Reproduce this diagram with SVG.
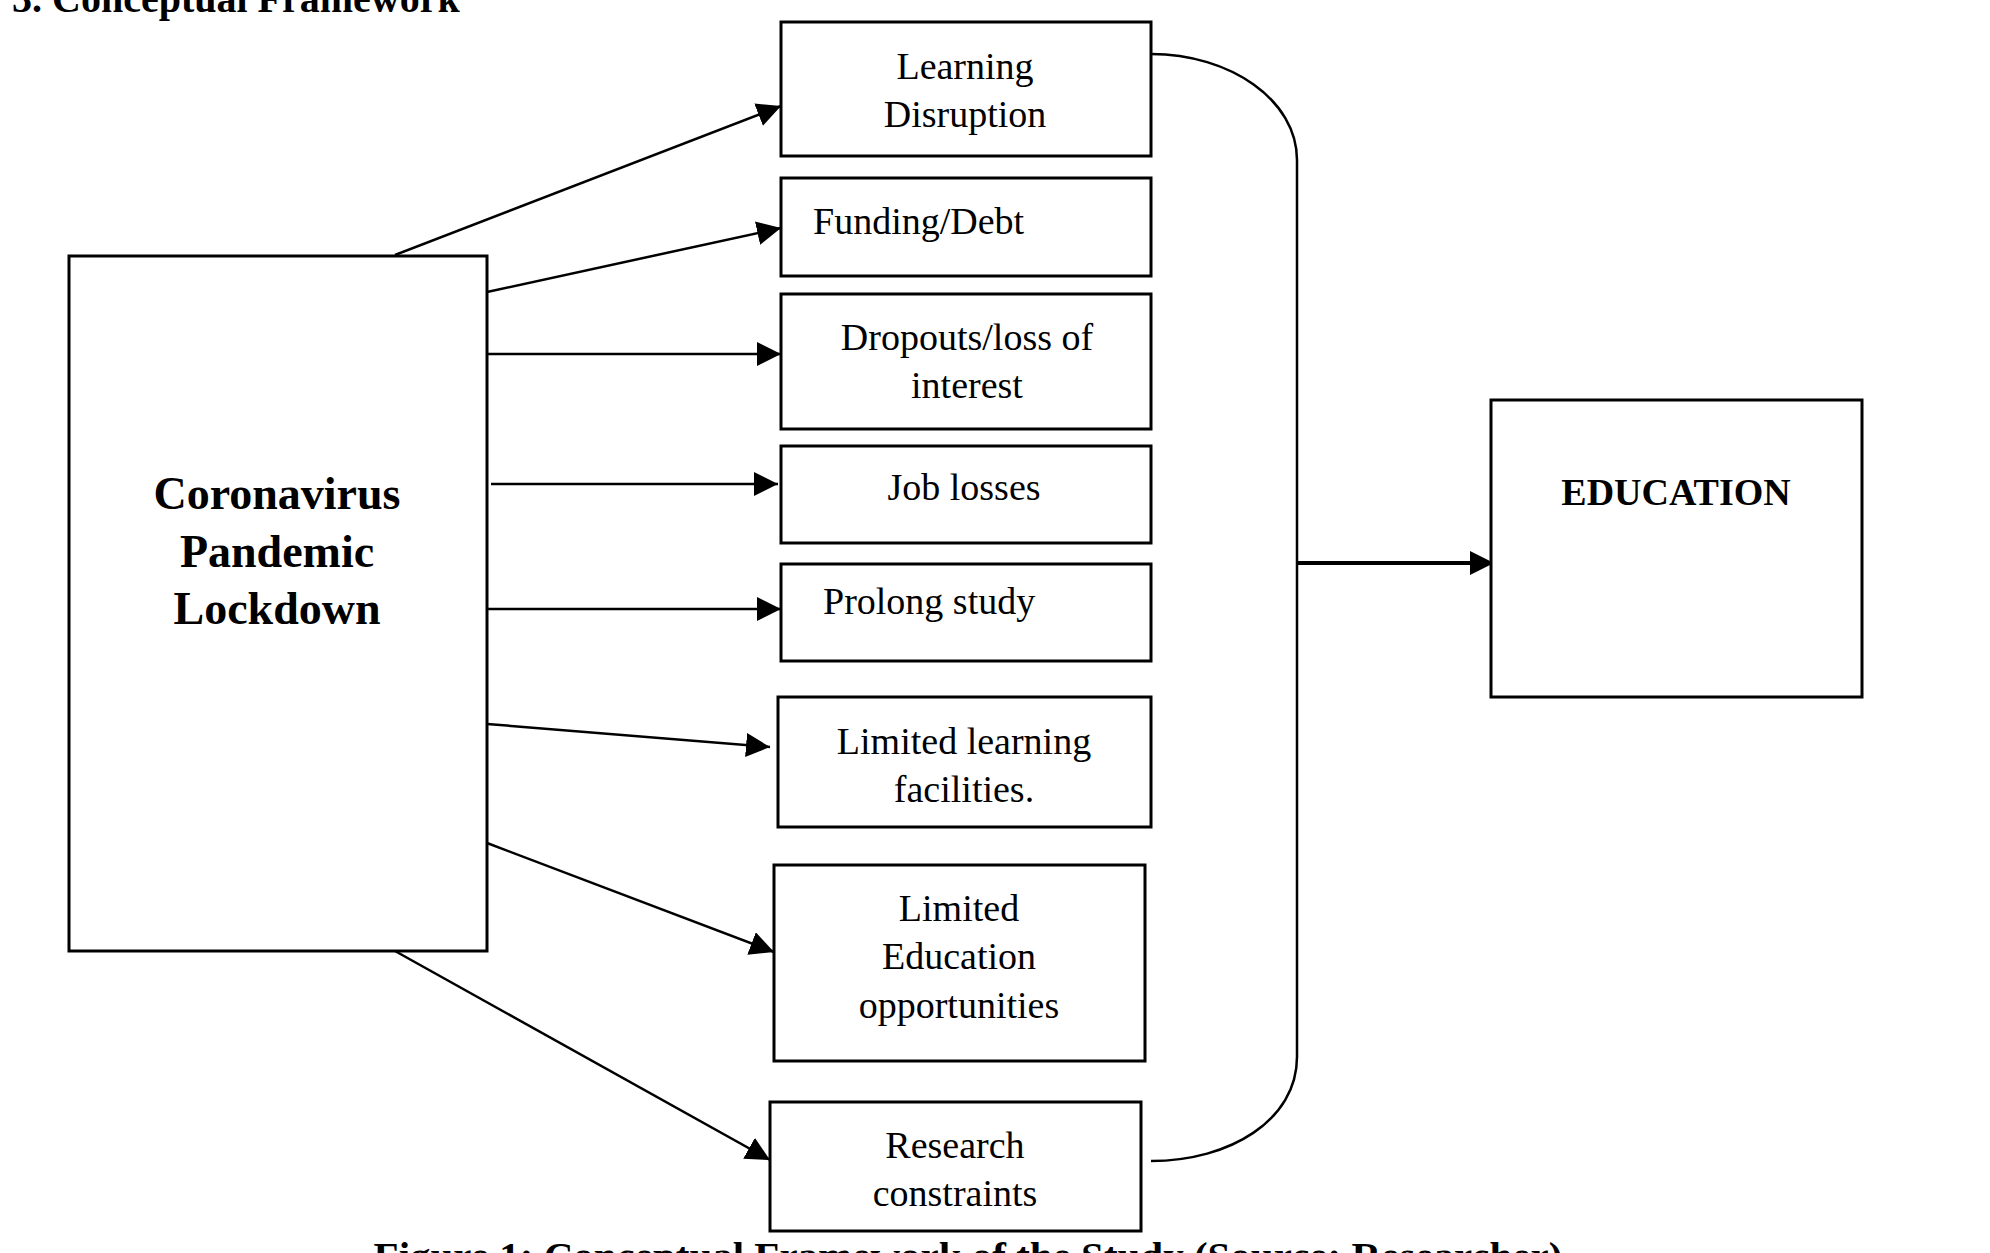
<svg xmlns="http://www.w3.org/2000/svg" width="1990" height="1253" viewBox="0 0 1990 1253">
<defs>
<style>
rect{fill:#fff;stroke:#000;stroke-width:3}
text{font-family:"Liberation Serif","Times New Roman",serif;fill:#000}
.t{font-size:38px}
.c{text-anchor:middle}
.b{font-weight:bold}
.ln{stroke:#000;stroke-width:2.5;fill:none}
</style>
<marker id="ah2" viewBox="0 0 10 10" refX="10" refY="5" markerWidth="24" markerHeight="24" markerUnits="userSpaceOnUse" orient="auto"><path d="M0,0 L10,5 L0,10 z"/></marker>
</defs>
<rect width="1990" height="1253" style="fill:#fff;stroke:none"/>
<text x="12" y="12" class="b" font-size="40">3.  Conceptual Framework</text>
<text x="968" y="1270" class="b c" font-size="41">Figure 1: Conceptual Framework of the Study (Source: Researcher)</text>
<g id="connectors">
<path class="ln" d="M1151,54 C1230,54 1297,100 1297,160 L1297,1057 C1297,1120 1230,1161 1151,1161"/>
<line class="ln" x1="1297" y1="563" x2="1494" y2="563" style="stroke-width:4" marker-end="url(#ah2)"/>
<g style="stroke:#000;stroke-width:2.5" marker-end="url(#ah2)">
<line x1="395" y1="255" x2="781" y2="106"/>
<line x1="487" y1="292" x2="781" y2="228"/>
<line x1="487" y1="354" x2="781" y2="354"/>
<line x1="491" y1="484" x2="778" y2="484"/>
<line x1="487" y1="609" x2="781" y2="609"/>
<line x1="487" y1="724" x2="770" y2="747"/>
<line x1="487" y1="843" x2="774" y2="952"/>
<line x1="395" y1="951" x2="770" y2="1160"/>
</g>
</g>
<g id="lockdown"><rect x="69" y="256" width="418" height="695"/>
<text class="b c" font-size="46" x="277" y="509">Coronavirus</text>
<text class="b c" font-size="46" x="277" y="567">Pandemic</text>
<text class="b c" font-size="46" x="277" y="624">Lockdown</text></g>
<g id="n1"><rect x="781" y="22" width="370" height="134"/><text class="t c" x="965" y="79">Learning</text><text class="t c" x="965" y="127">Disruption</text></g>
<g id="n2"><rect x="781" y="178" width="370" height="98"/><text class="t" x="813" y="234">Funding/Debt</text></g>
<g id="n3"><rect x="781" y="294" width="370" height="135"/><text class="t c" x="967" y="350">Dropouts/loss of</text><text class="t c" x="967" y="398">interest</text></g>
<g id="n4"><rect x="781" y="446" width="370" height="97"/><text class="t c" x="964" y="500">Job losses</text></g>
<g id="n5"><rect x="781" y="564" width="370" height="97"/><text class="t" x="823" y="614">Prolong study</text></g>
<g id="n6"><rect x="778" y="697" width="373" height="130"/><text class="t c" x="964" y="754">Limited learning</text><text class="t c" x="964" y="802">facilities.</text></g>
<g id="n7"><rect x="774" y="865" width="371" height="196"/><text class="t c" x="959" y="921">Limited</text><text class="t c" x="959" y="969">Education</text><text class="t c" x="959" y="1018">opportunities</text></g>
<g id="n8"><rect x="770" y="1102" width="371" height="129"/><text class="t c" x="955" y="1158">Research</text><text class="t c" x="955" y="1206">constraints</text></g>
<g id="education"><rect x="1491" y="400" width="371" height="297"/><text class="b c" font-size="38" x="1676" y="505">EDUCATION</text></g>
</svg>
